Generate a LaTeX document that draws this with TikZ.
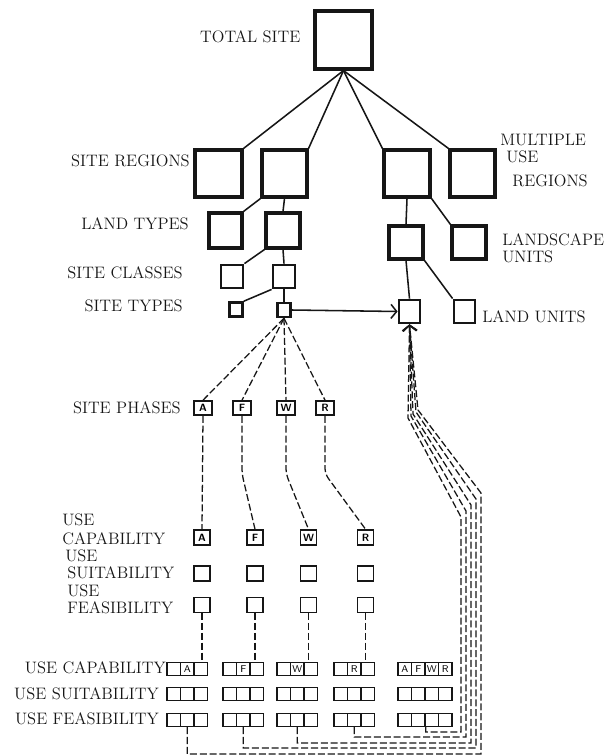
\documentclass[tikz,border=0pt]{standalone}
\usepackage{tikz}
\usetikzlibrary{arrows.meta, positioning}
\definecolor{InkDark}{RGB}{22, 22, 22}
\newcommand{\pxl}{0.025cm}
\tikzset{
  sitebox/.style 2 args={draw=InkDark, line width=2.2pt, inner sep=0pt,
    minimum width=#1*\pxl, minimum height=#2*\pxl},
  phasebox/.style={draw=InkDark, line width=1.2pt, inner sep=0pt,
    minimum width=18*\pxl, minimum height=14*\pxl,
    font=\sffamily\bfseries\fontsize{7.5}{8}\selectfont},
  ratebox/.style={draw=InkDark, line width=0.9pt, inner sep=0pt,
    minimum width=16*\pxl, minimum height=15*\pxl},
  gridcell/.style={draw=InkDark, line width=0.9pt, inner sep=0pt,
    minimum width=13.5*\pxl, minimum height=13*\pxl,
    font=\sffamily\fontsize{7}{7}\selectfont},
  lettercell/.style={gridcell, line width=1.4pt},
  treeline/.style={draw=InkDark, line width=1.1pt},
  phaseline/.style={draw=InkDark, line width=0.9pt, dash pattern=on 5pt off 2pt},
  lbl/.style={inner sep=0pt, text=InkDark, font=\fontsize{11.8}{12.4}\selectfont, align=left},
  chevron/.style={-{Straight Barb[length=4pt, width=10pt]}}
}

\begin{document}
\begin{tikzpicture}[x=\pxl, y=-\pxl]
  \useasboundingbox (0,0) rectangle (607,756);

  % hierarchy of site and use units
  \node[sitebox={57}{58}] (total) at (343.5,40) {};
  \node[sitebox={47}{47}] (sr1) at (218.5,173.5) {};
  \node[sitebox={45}{47}] (sr2) at (284.5,173.5) {};
  \node[sitebox={46}{47}] (sr3) at (407,173.5) {};
  \node[sitebox={45}{47}] (sr4) at (472.5,173.5) {};
  \node[sitebox={33}{35}] (lt1) at (225.5,230.5) {};
  \node[sitebox={34}{35}] (lt2) at (283,230.5) {};
  \node[sitebox={34}{33}] (ls1) at (406,242.5) {};
  \node[sitebox={34}{33}] (ls2) at (469,242.5) {};
  \node[sitebox={22}{23}, line width=2pt] (sc1) at (232,276.5) {};
  \node[sitebox={22}{23}, line width=2pt] (sc2) at (284,276.5) {};
  \node[sitebox={13}{14}, line width=1.8pt] (st1) at (236,309.5) {};
  \node[sitebox={13}{14}, line width=1.8pt] (st2) at (284,310) {};
  \node[sitebox={21}{23}, line width=2pt] (lu1) at (409.5,311.5) {};
  \node[sitebox={21}{23}, line width=2pt] (lu2) at (464.5,311.5) {};

  \node[lbl, left=0.32cm of total, yshift=0.075cm] (totallbl) {TOTAL SITE};
  \node[lbl, anchor=east] (srlbl) at (190,161) {SITE REGIONS};
  \node[lbl, anchor=east] (ltlbl) at (189,224) {LAND TYPES};
  \node[lbl, anchor=east] (sclbl) at (183,273) {SITE CLASSES};
  \node[lbl, anchor=east] (stlbl) at (183,306) {SITE TYPES};
  \node[lbl, anchor=west] (mulbl1) at (500,140) {MULTIPLE};
  \node[lbl, anchor=west] (mulbl2) at (506,157) {USE};
  \node[lbl, anchor=west] (mulbl3) at (512,181) {REGIONS};
  \node[lbl, anchor=west] (lslbl) at (502,248) {LANDSCAPE\\UNITS};
  \node[lbl, anchor=west] (lulbl) at (482,317) {LAND UNITS};

  \foreach \tgt in {sr1.north east, sr2.north east, sr3.north west, sr4.north west}
    \draw[treeline] (total.south) -- (\tgt);
  \draw[treeline] (sr2.south west) -- (lt1.north east);
  \draw[treeline] (sr2.south) -- (lt2.north);
  \draw[treeline] (lt2.south west) -- (sc1.north east);
  \draw[treeline] (lt2.south) -- (sc2.north);
  \draw[treeline] (sc2.south west) -- (st1.north east);
  \draw[treeline] (sc2.south) -- (st2.north);
  \draw[treeline] (sr3.south) -- (ls1.north);
  \draw[treeline] (sr3.south east) -- (ls2.north west);
  \draw[treeline] (ls1.south) -- (lu1.north);
  \draw[treeline] (ls1.south east) -- (lu2.north west);
  \draw[treeline, chevron] (st2.east) -- (lu1.west);

  % site phases and use ratings
  \foreach \p/\px in {A/203, F/242, W/286, R/325}
    \node[phasebox] (ph\p) at (\px,408) {\p};
  \foreach \p/\px in {A/202, F/255, W/308.5, R/365.5} {
    \node[phasebox, minimum width=16*\pxl, minimum height=15*\pxl] (cap\p) at (\px,537.5) {\p};
    \node[ratebox] (suit\p) at (\px,573.5) {};
    \node[ratebox] (feas\p) at (\px,605) {};
  }
  \node[lbl, anchor=east] (phlbl) at (181,408) {SITE PHASES};
  \node[lbl, anchor=west, font=\fontsize{11.8}{13.4}\selectfont] (caplbl) at (62,529.5) {USE\\CAPABILITY};
  \node[lbl, anchor=west, font=\fontsize{11.8}{12}\selectfont] (suitlbl) at (65,564) {USE\\\hspace*{0.05cm}SUITABILITY};
  \node[lbl, anchor=west] (feaslbl) at (67,599.5) {USE\\FEASIBILITY};

  \foreach \p in {A,F,W,R}
    \draw[phaseline] (st2.south) -- (ph\p.north);
  \draw[phaseline] (phA.south) -- (capA.north);
  \draw[phaseline, rounded corners=4pt] (phF.south) -- ++(0,58) -- (capF.north);
  \draw[phaseline, rounded corners=4pt] (phW.south) -- ++(0,58) -- (capW.north);
  \draw[phaseline, rounded corners=4pt] (phR.south) -- ++(0,58) -- (capR.north);

  % combined rating grid
  \foreach \g/\gx in {A/167, F/223, W/277, R/334} {
    \foreach \c in {1,2,3} {
      \node[gridcell] (bsuit\g\c) at (\gx+13.5*\c-6.75,694) {};
      \node[gridcell] (bfeas\g\c) at (\gx+13.5*\c-6.75,720) {};
    }
    \node[gridcell] (bcap\g1) at (\gx+6.75,669) {};
    \node[lettercell] (bcap\g2) at (\gx+20.25,669) {\g};
    \node[gridcell] (bcap\g3) at (\gx+33.75,669) {};
  }
  \foreach \l [count=\c] in {A,F,W,R} {
    \node[lettercell] (bcapX\c) at (398+13.5*\c-6.75,669) {\l};
    \node[gridcell] (bsuitX\c) at (398+13.5*\c-6.75,694) {};
    \node[gridcell] (bfeasX\c) at (398+13.5*\c-6.75,720) {};
  }
  \node[lbl, anchor=east] (bcaplbl) at (166,668) {USE CAPABILITY};
  \node[lbl, anchor=east] (bsuitlbl) at (159,694) {USE SUITABILITY};
  \node[lbl, anchor=east] (bfeaslbl) at (159,719) {USE FEASIBILITY};

  \foreach \p in {A,F,W,R}
    \draw[phaseline] (feas\p.south) -- (feas\p.south |- bcap\p3.north);

  % feedback bundle to land units
  \foreach \src/\bx/\hy/\by/\tx/\ty in {bfeasA2.south/481/754/493/418/410,
      bfeasF2.south/476/748/499/416/412, bfeasW2.south/471/743/505/413/414,
      bfeasR2.south/466/737/511/411/416, bfeasX2.south east/461/732/517/408/418}
    \draw[phaseline, chevron] (\src) |- (\bx,\hy) -- (\bx,\by) -- (\tx,\ty) -- (lu1.south);
\end{tikzpicture}
\end{document}
